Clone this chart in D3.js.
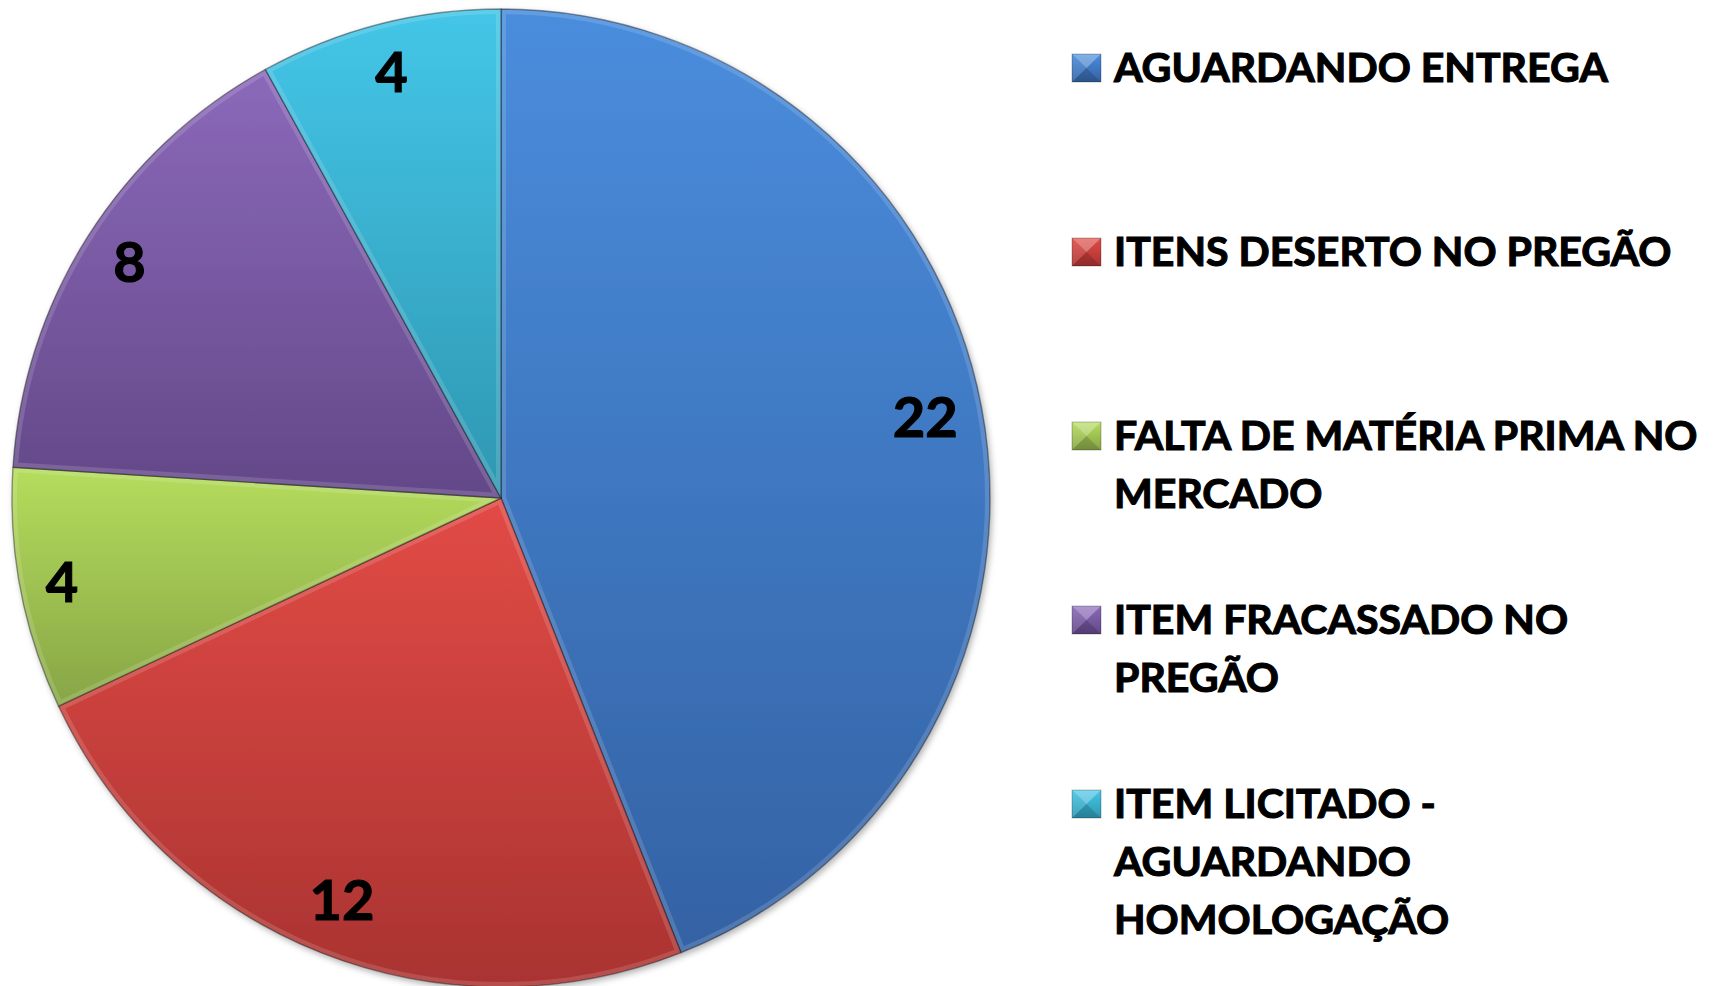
<!DOCTYPE html>
<html>
<head>
<meta charset="utf-8">
<script src="https://cdn.jsdelivr.net/npm/d3@7"></script>
<style>
  html, body { margin: 0; padding: 0; background: #fff; }
  svg { display: block; }
  text { font-family: Lato, "Open Sans", sans-serif; font-weight: 700; fill: #000;
         stroke: #000; stroke-width: 1.1px; paint-order: stroke; }
</style>
</head>
<body>
<svg id="chart" width="1723" height="986"></svg>
<script>
// data
var categories = [
  "AGUARDANDO ENTREGA",
  "ITENS DESERTO NO PREGÃO",
  "FALTA DE MATÉRIA PRIMA NO MERCADO",
  "ITEM FRACASSADO NO PREGÃO",
  "ITEM LICITADO - AGUARDANDO HOMOLOGAÇÃO"
];
var values = [22, 12, 4, 8, 4];
var topColors = ["#4a8ddd", "#e24b46", "#b5dd5c", "#8b69ba", "#44c6e8"];
var bottomColors = ["#3462a4", "#a93331", "#87a546", "#634888", "#2e97b1"];

var width = 1723, height = 986;
var cx = 501, cy = 498, radius = 489;

var svg = d3.select("#chart");
var defs = svg.append("defs");

// one vertical gradient per slice
categories.forEach(function (c, i) {
    var g = defs.append("linearGradient").attr("id", "grad" + i)
        .attr("x1", 0).attr("y1", 0).attr("x2", 0).attr("y2", 1);
    g.append("stop").attr("offset", "0%").attr("stop-color", topColors[i]);
    g.append("stop").attr("offset", "100%").attr("stop-color", bottomColors[i]);
});

var shadow = defs.append("filter").attr("id", "shadow")
    .attr("x", "-5%").attr("y", "-5%").attr("width", "110%").attr("height", "110%");
shadow.append("feDropShadow").attr("dx", 2).attr("dy", 3)
    .attr("stdDeviation", 3).attr("flood-color", "#000").attr("flood-opacity", 0.3);

var pie = d3.pie().sort(null).value(function (d) { return d; });
var arcs = pie(values);
var arc = d3.arc().innerRadius(0).outerRadius(radius);

var pieG = svg.append("g").attr("transform", "translate(" + cx + "," + cy + ")");
var slicesG = pieG.append("g").attr("filter", "url(#shadow)");

arcs.forEach(function (a, i) {
    defs.append("clipPath").attr("id", "clip" + i)
        .append("path").attr("d", arc(a));
});

var slice = slicesG.selectAll("g.slice").data(arcs).enter()
    .append("g").attr("class", "slice");
slice.append("path")
    .attr("d", arc)
    .attr("fill", function (d, i) { return "url(#grad" + i + ")"; });
// bevel: soft light rim inside every slice, dark seam on the edge
slice.append("path")
    .attr("d", arc)
    .attr("clip-path", function (d, i) { return "url(#clip" + i + ")"; })
    .attr("fill", "none")
    .attr("stroke", "#fff")
    .attr("stroke-opacity", 0.14)
    .attr("stroke-width", 10)
    .attr("stroke-linejoin", "round");
slice.append("path")
    .attr("d", arc)
    .attr("fill", "none")
    .attr("stroke", "#000")
    .attr("stroke-opacity", 0.38)
    .attr("stroke-width", 1.4)
    .attr("stroke-linejoin", "round");

// value labels, "inside end": push the label box out until it touches the rim
var labelSize = 56, padX = 9, halfH = 34, rimGap = 9;
var labels = pieG.selectAll("text.value").data(arcs).enter()
    .append("text").attr("class", "value")
    .attr("font-size", labelSize)
    .attr("text-anchor", "middle")
    .text(function (d) { return d.data; });
labels.each(function (d) {
    var halfW = this.getComputedTextLength() / 2 + padX;
    var mid = (d.startAngle + d.endAngle) / 2;
    var ux = Math.sin(mid), uy = -Math.cos(mid);
    var t = radius;
    var fits = function (t) {
        var px = ux * t, py = uy * t;
        return [[-1, -1], [1, -1], [1, 1], [-1, 1]].every(function (s) {
            var x = px + s[0] * halfW, y = py + s[1] * halfH;
            return Math.sqrt(x * x + y * y) <= radius - rimGap;
        });
    };
    while (t > 0 && !fits(t)) t -= 1;
    d3.select(this)
        .attr("x", ux * t)
        .attr("y", uy * t + labelSize * 0.358);
});

// legend
var legendX = 1072, textX = 1114, firstBase = 82, rowStep = 184, lineStep = 58;
var legendSize = 41, maxLine = 600, targetFirst = 494;

var legend = svg.append("g").attr("class", "legend");

// horizontal squeeze so the font matches the narrow original face
var probe = legend.append("text").attr("font-size", legendSize).text(categories[0]);
var sx = targetFirst / probe.node().getComputedTextLength();
probe.remove();

function wrap(label) {
    var words = label.split(" "), lines = [], cur = "";
    var m = legend.append("text").attr("font-size", legendSize);
    words.forEach(function (w) {
        var test = cur ? cur + " " + w : w;
        m.text(test);
        if (cur && m.node().getComputedTextLength() * sx > maxLine) {
            lines.push(cur);
            cur = w;
        } else {
            cur = test;
        }
    });
    lines.push(cur);
    m.remove();
    return lines;
}

categories.forEach(function (c, i) {
    var base = firstBase + i * rowStep;
    var row = legend.append("g");
    var mk = row.append("g").attr("transform", "translate(" + legendX + "," + (base - 28) + ")");
    var s = 29, h = 28;
    mk.append("rect").attr("width", s).attr("height", h)
        .attr("fill", "url(#grad" + i + ")");
    mk.append("path").attr("d", "M0,0L" + s + ",0L" + s / 2 + "," + h / 2 + "Z")
        .attr("fill", "#fff").attr("fill-opacity", 0.3);
    mk.append("path").attr("d", "M0," + h + "L" + s + "," + h + "L" + s / 2 + "," + h / 2 + "Z")
        .attr("fill", "#000").attr("fill-opacity", 0.15);
    mk.append("path").attr("d", "M0,0L" + s / 2 + "," + h / 2 + "L0," + h + "Z")
        .attr("fill", "#fff").attr("fill-opacity", 0.1);
    mk.append("rect").attr("width", s).attr("height", h)
        .attr("fill", "none").attr("stroke", "#000").attr("stroke-opacity", 0.25);

    wrap(c).forEach(function (line, j) {
        row.append("text")
            .attr("font-size", legendSize)
            .attr("transform", "translate(" + textX + "," + (base + j * lineStep) + ") scale(" + sx + ",1)")
            .text(line);
    });
});
</script>
</body>
</html>
